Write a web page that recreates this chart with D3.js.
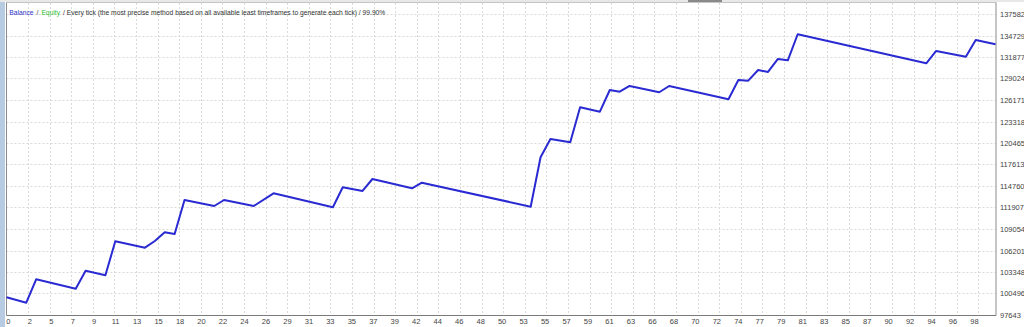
<!DOCTYPE html>
<html>
<head>
<meta charset="utf-8">
<script src="https://cdn.jsdelivr.net/npm/d3@7"></script>
<style>
html,body{margin:0;padding:0;background:#fff;overflow:hidden;}
svg{display:block;}
</style>
</head>
<body>
<svg id="chart" width="1024" height="327"></svg>
<script>
// Trade numbers of the balance curve's vertices
const trades = [0, 2, 3, 7, 8, 10, 11, 14, 15, 16, 17, 18, 21, 22, 25, 27, 33, 34, 36, 37, 41, 42, 53, 54, 55, 57, 58, 60, 61, 62, 63, 66, 67, 73, 74, 75, 76, 77, 78, 79, 80, 93, 94, 97, 98, 100];
// Balance at those trades
const balance = [100000, 99275, 102380, 101133, 103522, 102911, 107423, 106574, 107463, 108617, 108392, 112904, 112107, 112904, 112107, 113793, 111935, 114589, 114098, 115690, 114456, 115199, 112015, 118570, 120998, 120560, 125204, 124621, 127501, 127280, 128031, 127196, 128031, 126267, 128828, 128735, 130155, 129890, 131614, 131440, 134893, 131044, 132676, 131920, 134136, 133565];
// Axis tick labels
const xLabels = [0,2,5,7,9,11,13,15,18,20,22,24,26,29,31,33,35,37,39,42,44,46,48,50,53,55,57,59,61,63,66,68,70,72,74,77,79,81,83,85,87,90,92,94,96,98];
const yLabels = [137582,134729,131877,129024,126171,123318,120465,117613,114760,111907,109054,106201,103348,100496,97643];
// Header segments and colours
const headerParts = ["Balance", "/", "Equity", "/ Every tick (the most precise method based on all available least timeframes to generate each tick) / 99.90%"];
const headerColors = ["#3030c8", "#333", "#30c030", "#333"];

const svg = d3.select("#chart");
const pLeft = 6.5, pRight = 995.5, pTop = 14, pBottom = 315;

const x = d3.scaleLinear().domain([0, 100]).range([pLeft, pRight]);
const y = d3.scaleLinear().domain([97643, 137582]).range([pBottom, pTop]);
const gx = d3.scaleLinear().domain([0, xLabels.length - 1]).range([pLeft, 978.3]);
const lx = d3.scaleLinear().domain([0, xLabels.length - 1]).range([8.3, 974.5]);

// left window strip
svg.append("rect").attr("x", 0).attr("y", 0).attr("width", 5).attr("height", 327).attr("fill", "#b7cbe3");
svg.append("rect").attr("x", 0).attr("y", 0).attr("width", 1024).attr("height", 2).attr("fill", "#e8e8e8");
svg.append("rect").attr("x", 688).attr("y", 0).attr("width", 34).attr("height", 2).attr("fill", "#8a8a8a");

// grid
const grid = svg.append("g").attr("stroke", "#d9d9d9").attr("stroke-dasharray", "2,2").attr("stroke-width", 1);
grid.selectAll("line.h").data(yLabels.slice(0, -1)).enter().append("line")
  .attr("x1", pLeft).attr("x2", pRight + 0.5)
  .attr("y1", d => Math.round(y(d)) + 0.5).attr("y2", d => Math.round(y(d)) + 0.5);
grid.selectAll("line.v").data(xLabels.slice(1)).enter().append("line")
  .attr("x1", (d, i) => Math.round(gx(i + 1)) + 0.5).attr("x2", (d, i) => Math.round(gx(i + 1)) + 0.5)
  .attr("y1", 3).attr("y2", pBottom);

// frame
svg.append("line").attr("x1", pLeft).attr("x2", pRight + 0.5).attr("y1", 2.5).attr("y2", 2.5).attr("stroke", "#c4c4c4");
svg.append("line").attr("x1", pRight + 0.5).attr("x2", pRight + 0.5).attr("y1", 2.5).attr("y2", pBottom + 0.5).attr("stroke", "#8c8c8c");
svg.append("line").attr("x1", pLeft).attr("x2", pLeft).attr("y1", 2.5).attr("y2", pBottom + 0.5).attr("stroke", "#8c8c8c");
svg.append("line").attr("x1", pLeft).attr("x2", pRight + 0.5).attr("y1", pBottom + 0.5).attr("y2", pBottom + 0.5).attr("stroke", "#7a7a7a");

// balance line
const pts = trades.map((t, i) => [t, balance[i]]);
svg.append("path").datum(pts)
  .attr("fill", "none").attr("stroke", "#2a2ad2").attr("stroke-width", 2)
  .attr("stroke-linejoin", "round")
  .attr("d", d3.line().x(d => x(d[0])).y(d => y(d[1])));

// y labels
svg.append("g").selectAll("text").data(yLabels).enter().append("text")
  .attr("x", 1000).attr("y", d => y(d) + 3)
  .attr("font-family", "Liberation Sans, Arial, sans-serif").attr("font-size", 7.5)
  .attr("fill", "#444").text(d => d);

// x labels
svg.append("g").selectAll("text").data(xLabels).enter().append("text")
  .attr("x", (d, i) => lx(i)).attr("y", 324)
  .attr("text-anchor", "middle")
  .attr("font-family", "Liberation Sans, Arial, sans-serif").attr("font-size", 7.5)
  .attr("fill", "#444").text(d => d);

// header: separate texts (no shared spaces), measured then compressed to the reference width
const hg = svg.append("g").attr("font-family", "Liberation Sans, Arial, sans-serif").attr("font-size", 8);
const ht = hg.selectAll("text").data(headerParts).enter().append("text")
  .attr("y", 15).attr("fill", (d, i) => headerColors[i]).text(d => d);
const widths = [];
ht.each(function() { widths.push(this.getComputedTextLength()); });
const gap = 3;
const k = (376 - gap * (headerParts.length - 1)) / d3.sum(widths);
let cx = 9.3;
ht.each(function(d, i) {
  const w = widths[i] * k;
  d3.select(this).attr("x", cx).attr("textLength", w).attr("lengthAdjust", "spacingAndGlyphs");
  cx += w + gap;
});
</script>
</body>
</html>
